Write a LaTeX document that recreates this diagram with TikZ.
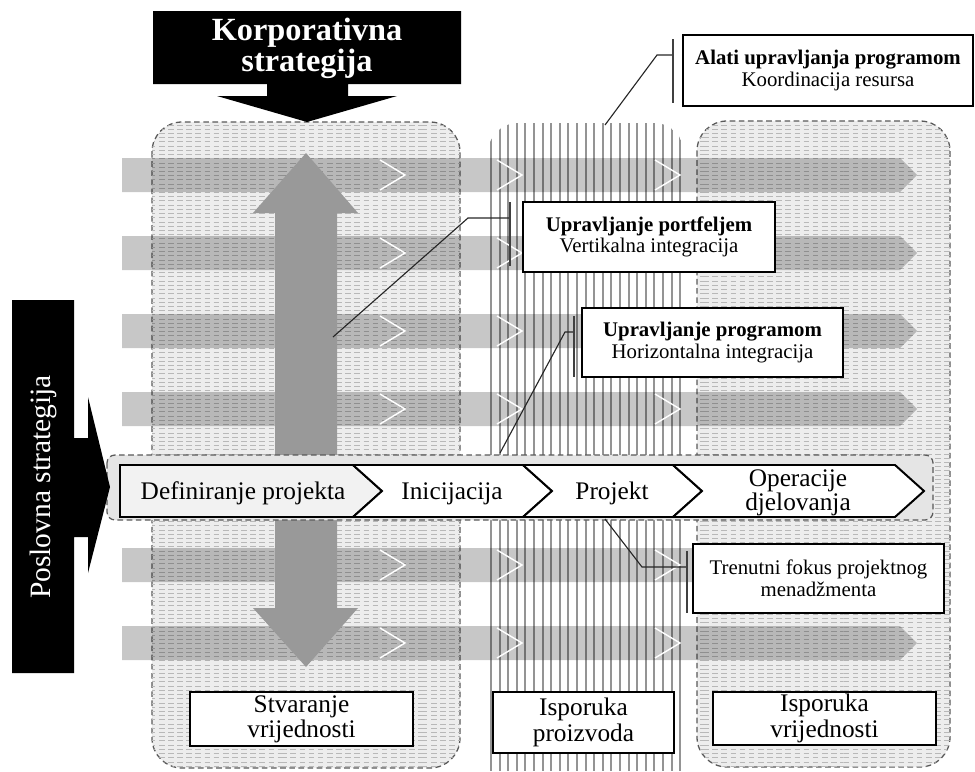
\documentclass[tikz,border=0pt]{standalone}
\usepackage{fontspec}
\setmainfont{Liberation Serif}
\usetikzlibrary{patterns}

\begin{document}
\begin{tikzpicture}[x=0.025cm,y=-0.025cm,
    colbox/.style={draw=black!65,dash pattern=on 4pt off 2.5pt,line width=0.9pt,
      rounded corners=0.75cm,fill=black!7,postaction={pattern=horizontal lines,pattern color=black!28}},
    band/.style={fill=black,fill opacity=0.22},
    chev/.style={draw,line width=1.4pt,fill=white},
    chevtext/.style={font=\fontsize{18}{16.5}\selectfont,align=center,anchor=base},
    callbox/.style={draw,line width=1.4pt,fill=white,align=center,inner sep=0pt,
      font=\fontsize{14.8}{15.5}\selectfont},
    labelbox/.style={draw,line width=1.4pt,fill=white,align=center,inner sep=0pt,
      font=\fontsize{18}{18}\selectfont},
    lead/.style={draw=black!85,line width=0.8pt},
    bar/.style={draw=black!75,line width=1.2pt}]

\useasboundingbox (0,0) rectangle (975,771);

\path[colbox] (152,122) rectangle (460,768);
\path[colbox] (697,121) rectangle (950,767);
\begin{scope}
\clip[rounded corners=0.75cm] (488,123) rectangle (684,800);
\foreach \x in {491,499.6,...,682} \draw[black!42,line width=1.5pt] (\x,120) -- (\x,771);
\end{scope}

\foreach \y in {175,253,331,409,565,643} {
  \fill[band] (122,\y-17) -- (900,\y-17) -- (917,\y) -- (900,\y+17) -- (122,\y+17) -- cycle;
  \foreach \c in {405,522,680}
    \draw[white,line width=1pt] (\c-25,\y-15) -- (\c,\y) -- (\c-25,\y+15);
}

\fill[black!40] (306,153) -- (358,213) -- (337,213) -- (337,608) -- (358,608) -- (306,667)
  -- (253,608) -- (275,608) -- (275,213) -- (253,213) -- cycle;

\path[draw=black!65,dash pattern=on 4pt off 2.5pt,line width=0.9pt,rounded corners=0.2cm,
  fill=black!10] (107,455) rectangle (933,520);
\draw[chev,fill=black!5] (120,465) -- (353,465) -- (382,491) -- (353,517) -- (120,517) -- cycle;
\foreach \a/\b in {353/523,523/673,673/895}
  \draw[chev] (\a,465) -- (\b,465) -- (\b+29,491) -- (\b,517) -- (\a,517) -- (\a+29,491) -- cycle;

\node[chevtext] (defin) at (243,499) {Definiranje projekta};
\node[chevtext] (inic) at (452,499) {Inicijacija};
\node[chevtext] (proj) at (612,499) {Projekt};
\node[chevtext] (oper) at (798,510) {Operacije\\djelovanja};

\fill (153,11) -- (461,11) -- (461,84) -- (348,84) -- (348,96) -- (397,96) -- (307,122)
  -- (217,96) -- (267,96) -- (267,84) -- (153,84) -- cycle;
\node[text=white,align=center,font=\bfseries\fontsize{23}{22}\selectfont] (korp) at (307,48)
  {Korporativna\\strategija};
\fill (12,300) -- (74,300) -- (74,438) -- (88,438) -- (88,397) -- (110,487) -- (88,573)
  -- (88,537) -- (74,537) -- (74,673) -- (12,673) -- cycle;
\node[text=white,rotate=90,font=\fontsize{21}{21}\selectfont] (posl) at (43,487) {Poslovna strategija};

\node[callbox,minimum width=7.25cm,minimum height=1.775cm] (alati) at (828,70.5)
  {\textbf{Alati upravljanja programom}\\Koordinacija resursa};
\node[callbox,minimum width=6.3cm,minimum height=1.75cm] (portf) at (649,237)
  {\textbf{Upravljanje portfeljem}\\Vertikalna integracija};
\node[callbox,minimum width=6.525cm,minimum height=1.725cm] (progr) at (712.5,342.5)
  {\textbf{Upravljanje programom}\\Horizontalna integracija};
\node[callbox,minimum width=6.275cm,minimum height=1.725cm] (fokus) at (818.5,578.5)
  {Trenutni fokus projektnog\\menadžmenta};

\coordinate (alatiA) at (605,125);
\coordinate (portfA) at (333,337);
\coordinate (progrA) at (500,453);
\coordinate (fokusA) at (605,519);

\draw[lead] (alatiA) -- (657,55) -- ([shift={(-9,-15.5)}]alati.west);
\draw[bar] ([shift={(-9,5)}]alati.north west) -- ([shift={(-9,-4)}]alati.south west);
\draw[lead] (portfA) -- (468,218) -- ([shift={(-12,-19)}]portf.west);
\draw[bar] ([shift={(-12,1)}]portf.north west) -- ([shift={(-12,-7)}]portf.south west);
\draw[lead] (progrA) -- (565,332) -- ([shift={(-7,-10.5)}]progr.west);
\draw[bar] ([shift={(-7,9)}]progr.north west) -- ([shift={(-7,-1)}]progr.south west);
\draw[lead] (fokusA) -- (642,567) -- ([shift={(-5,-11.5)}]fokus.west);
\draw[bar] ([shift={(-5,8)}]fokus.north west) -- ([shift={(-5,-1)}]fokus.south west);

\node[labelbox,minimum width=5.575cm,minimum height=1.35cm] (stvar) at (301.5,719)
  {Stvaranje\\vrijednosti};
\node[labelbox,minimum width=4.525cm,minimum height=1.525cm] (ispProiz) at (583.5,722.5)
  {Isporuka\\proizvoda};
\node[labelbox,minimum width=5.575cm,minimum height=1.325cm] (ispVrij) at (824.5,718.5)
  {Isporuka\\vrijednosti};

\end{tikzpicture}
\end{document}
